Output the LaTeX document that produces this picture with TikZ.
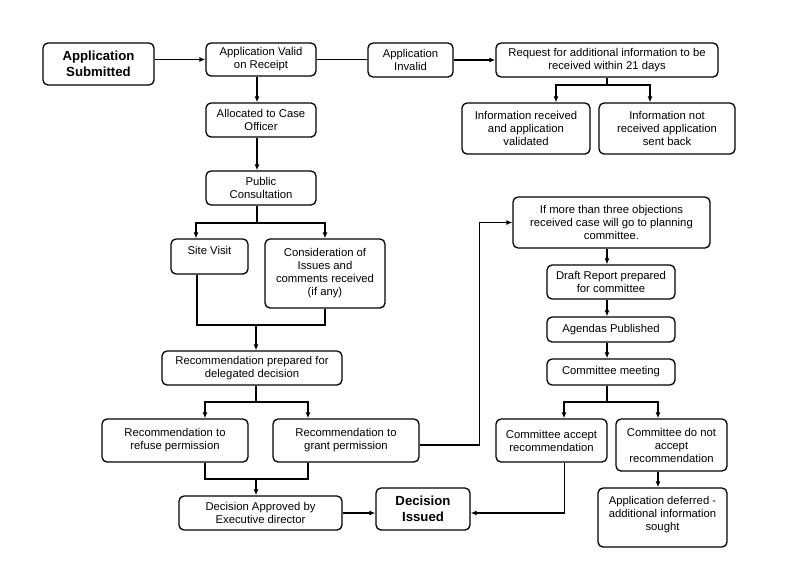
\documentclass[tikz,border=0pt]{standalone}
\usepackage{fontspec}
\setmainfont{Liberation Sans}
\usetikzlibrary{arrows.meta}

\begin{document}
\begin{tikzpicture}[x=1pt, y=-1pt, line width=1.3pt,
             >={Latex[length=6pt,width=5pt]},
             wh/.style 2 args={minimum width=#1pt, minimum height=#2pt},
             box/.style={draw, rounded corners=5pt, align=center, inner sep=1pt,
                         font=\fontsize{11.3}{13}\selectfont},
             bigbox/.style={box, font=\fontsize{13.2}{16}\selectfont\bfseries}]
             \useasboundingbox (0,0) rectangle (800,566);

             \node[bigbox, wh={111}{42}] (submitted) at (98.5,64) {Application\\Submitted};
             \node[box, wh={110}{33}] (valid) at (261,59.5) {Application Valid\\on Receipt};
             \node[box, wh={85}{34}] (invalid) at (410.5,60) {Application\\Invalid};
             \node[box, wh={222}{34}] (request) at (607,60) {Request for additional information to be\\received within 21 days};
             \node[box, wh={128}{51}] (inforec) at (526,128.5) {Information received\\and application\\validated};
             \node[box, wh={136}{51}] (infonot) at (667,128.5) {Information not\\received application\\sent back};

             \node[box, wh={110}{34}] (allocated) at (261,120) {Allocated to Case\\Officer};
             \node[box, wh={110}{34}] (public) at (261,188) {Public\\Consultation};
             \node[box, wh={77}{35}] (site) at (209.5,256.5) {Site Visit\\~};
             \node[box, wh={120}{69}] (consider) at (325,273.5) {Consideration of\\Issues and\\comments received\\(if any)};
             \node[box, wh={180}{34}] (prepared) at (252,368) {Recommendation prepared for\\delegated decision};
             \node[box, wh={146}{43}] (refuse) at (175,440.5) {Recommendation to\\refuse permission};
             \node[box, wh={146}{43}] (grant) at (346,440.5) {Recommendation to\\grant permission};
             \node[box, wh={163}{34}] (approved) at (260.5,513) {Decision Approved by\\Executive director};
             \node[bigbox, wh={94}{42}] (issued) at (423,509) {Decision\\Issued};

             \node[box, wh={197}{51}] (ifmore) at (611.5,222.5) {If more than three objections\\received case will go to planning\\committee.};
             \node[box, wh={128}{34}] (draft) at (611,282) {Draft Report prepared\\for committee};
             \node[box, wh={128}{25}] (agendas) at (611,329.5) {Agendas Published};
             \node[box, wh={128}{26}] (meeting) at (611,372) {Committee meeting};
             \node[box, wh={111}{43}] (accept) at (551.5,440.5) {Committee accept\\recommendation};
             \node[box, wh={111}{52}] (notacc) at (671.5,445) {Committee do not\\accept\\recommendation};
             \node[box, wh={129}{59}] (deferred) at (662.5,517.5) {Application deferred -\\additional information\\sought\\[-5pt]~};

             \draw[->] (submitted.east |- valid.west) -- (valid.west);
             \draw (valid.east) -- (valid.east -| invalid.west);
             \draw[->] (invalid.east) -- (request.west);
             \coordinate (reqsplit) at (607,85);
             \draw (request.south) -- (reqsplit);
             \draw[->] (reqsplit) -| ([xshift=30pt]inforec.north);
             \draw[->] (reqsplit) -| ([xshift=-17pt]infonot.north);

             \draw[->] ([xshift=-4pt]valid.south) -- ([xshift=-4pt]allocated.north);
             \draw[->] ([xshift=-4pt]allocated.south) -- ([xshift=-4pt]public.north);
             \coordinate (pubsplit) at (257,223);
             \draw ([xshift=-4pt]public.south) -- (pubsplit);
             \draw[->] (pubsplit) -| ([xshift=-13.5pt]site.north);
             \draw[->] (pubsplit) -| (consider.north);
             \coordinate (sitejoin) at (256,325);
             \draw ([xshift=-12.5pt]site.south) |- (sitejoin) -| (consider.south);
             \draw[->] (sitejoin) -- ([xshift=4pt]prepared.north);
             \coordinate (prepsplit) at (256,402);
             \draw ([xshift=4pt]prepared.south) -- (prepsplit);
             \draw[->] (prepsplit) -| ([xshift=30pt]refuse.north);
             \draw[->] (prepsplit) -| ([xshift=-38pt]grant.north);
             \coordinate (recjoin) at (256,479);
             \draw ([xshift=30pt]refuse.south) |- (recjoin) -| ([xshift=-38pt]grant.south);
             \draw[->] (recjoin) -- ([xshift=-4.5pt]approved.north);
             \draw[->] (approved.east) -- (approved.east -| issued.west);
             \draw[->] ([yshift=-4.5pt]grant.east) -- ++(60,0) |- (ifmore.west);

             \draw[->] ([xshift=-4.5pt]ifmore.south) -- ([xshift=-4pt]draft.north);
             \draw[->] ([xshift=-4pt]draft.south) -- ([xshift=-4pt]agendas.north);
             \draw[->] ([xshift=-4pt]agendas.south) -- ([xshift=-4pt]meeting.north);
             \coordinate (meetsplit) at (607,402);
             \draw ([xshift=-4pt]meeting.south) -- (meetsplit);
             \draw[->] (meetsplit) -| ([xshift=12.5pt]accept.north);
             \draw[->] (meetsplit) -| ([xshift=-13.5pt]notacc.north);
             \draw[->] ([xshift=-13.5pt]notacc.south) -- ([xshift=-4.5pt]deferred.north);
             \draw[->] ([xshift=13pt]accept.south) |- ([yshift=-4pt]issued.east);
             \end{tikzpicture}
\end{document}
